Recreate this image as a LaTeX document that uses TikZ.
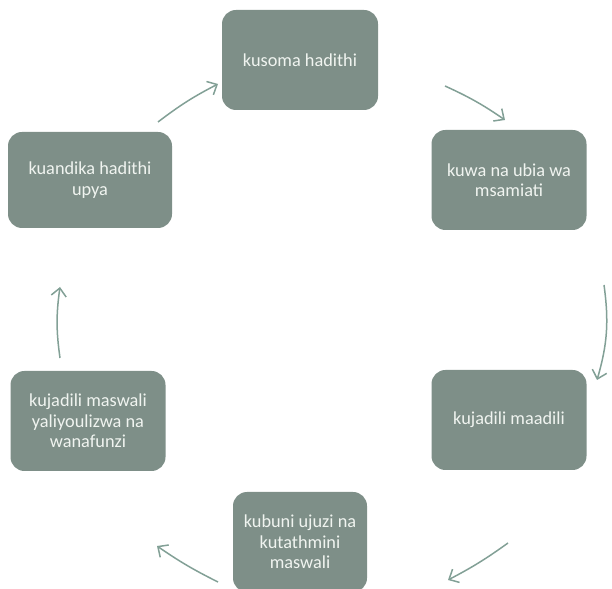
\documentclass[tikz,border=0pt]{standalone}
\usepackage{fontspec}
\setmainfont{Carlito}
\usetikzlibrary{arrows.meta}
\definecolor{boxfill}{RGB}{126,143,136}
\definecolor{arrowcol}{RGB}{130,160,150}
\definecolor{txtcol}{RGB}{240,244,240}
\begin{document}
\begin{tikzpicture}[x=1pt,y=1pt,
  stepbox/.style={draw=none,fill=boxfill,rounded corners=14pt,text=txtcol,
    align=center,font=\fontsize{18.3}{20.5}\selectfont,inner sep=0pt},
  cyc/.style={draw=arrowcol,line width=1.5pt,-{Straight Barb[length=8pt,width=15pt,line width=1.5pt]}}]
\useasboundingbox (0,0) rectangle (612,588);
\node[stepbox,minimum width=156pt,minimum height=100pt] (a) at (300,528) {kusoma hadithi};
\node[stepbox,minimum width=155pt,minimum height=100pt] (b) at (509,408) {kuwa na ubia wa\\msamiati};
\node[stepbox,minimum width=155pt,minimum height=100pt] (c) at (509,168) {kujadili maadili};
\node[stepbox,minimum width=134pt,minimum height=100pt] (d) at (300,46) {kubuni ujuzi na\\kutathmini\\maswali};
\node[stepbox,minimum width=155pt,minimum height=100pt] (e) at (88,167) {kujadili maswali\\yaliyoulizwa na\\wanafunzi};
\node[stepbox,minimum width=164pt,minimum height=96pt] (f) at (90,408) {kuandika hadithi\\upya};
\coordinate (a1) at (445,502); \coordinate (a2) at (505,468);
\coordinate (b1) at (604,303); \coordinate (b2) at (597,208);
\coordinate (c1) at (508,45); \coordinate (c2) at (448,8);
\coordinate (d1) at (218,6); \coordinate (d2) at (157,42);
\coordinate (e1) at (60,230); \coordinate (e2) at (60,301);
\coordinate (f1) at (158,466); \coordinate (f2) at (218,504);
\draw[cyc] (a1) to[bend left=5] (a2);
\draw[cyc] (b1) to[bend left=12] (b2);
\draw[cyc] (c1) to[bend left=4] (c2);
\draw[cyc] (d1) to[bend left=4] (d2);
\draw[cyc] (e1) to[bend left=8] (e2);
\draw[cyc] (f1) to[bend left=5] (f2);
\end{tikzpicture}
\end{document}
